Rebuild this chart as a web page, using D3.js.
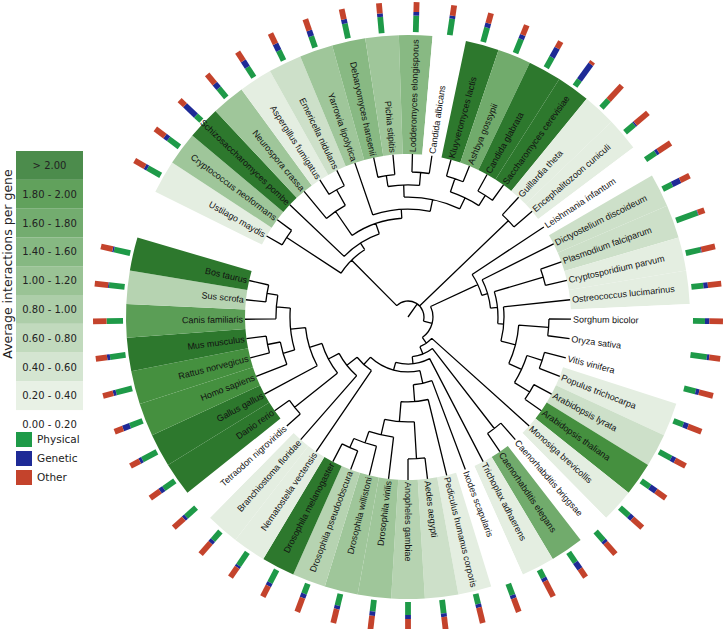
<!DOCTYPE html>
<html><head><meta charset="utf-8">
<script src="https://cdn.jsdelivr.net/npm/d3@7"></script>
<style>body{margin:0;background:#fff}svg{display:block}</style>
</head><body>
<svg id="chart" width="724" height="629"></svg>
<script>
// ---------------- DATA ----------------
const species = ["Ustilago maydis","Cryptococcus neoformans","Schizosaccharomyces pombe","Neurospora crassa","Aspergillus fumigatus","Emericella nidulans","Yarrowia lipolytica","Debaryomyces hansenii","Pichia stipitis","Lodderomyces elongisporus","Candida albicans","Kluyveromyces lactis","Ashbya gossypii","Candida glabrata","Saccharomyces cerevisiae","Guillardia theta","Encephalitozoon cuniculi","Leishmania infantum","Dictyostelium discoideum","Plasmodium falciparum","Cryptosporidium parvum","Ostreococcus lucimarinus","Sorghum bicolor","Oryza sativa","Vitis vinifera","Populus trichocarpa","Arabidopsis lyrata","Arabidopsis thaliana","Monosiga brevicollis","Caenorhabditis briggsae","Caenorhabditis elegans","Trichoplax adhaerens","Ixodes scapularis","Pediculus humanus corporis","Aedes aegypti","Anopheles gambiae","Drosophila virilis","Drosophila willistoni","Drosophila pseudoobscura","Drosophila melanogaster","Nematostella vectensis","Branchiostoma floridae","Tetraodon nigroviridis","Danio rerio","Gallus gallus","Homo sapiens","Rattus norvegicus","Mus musculus","Canis familiaris","Sus scrofa","Bos taurus"];
const avgInteractions = [0.3,0.9,2.4,0.9,0.3,0.5,0.9,1.1,0.9,1.1,0.1,2.3,1.5,2.2,2.8,0.3,0.3,0.1,0.5,0.5,0.3,0.3,0.1,0.1,0.1,0.3,0.5,1.9,0.3,0.1,1.5,0.3,0.1,0.3,0.5,0.7,0.9,0.9,0.7,2.3,0.3,0.3,0.1,2.1,2.1,1.9,1.9,2.2,1.7,0.7,2.1];
const physicalShare = [.50,.45,.25,.40,.40,.37,.40,.50,.54,.55,.55,.50,.50,.40,.25,.35,.40,.40,.35,.75,.50,.40,.40,.55,.40,.35,.45,.35,.40,.40,.40,.30,.40,.35,.45,.43,.38,.40,.35,.48,.52,.38,.45,.45,.55,.45,.55,.52,.55,.52,.55];
const geneticShare  = [.10,.15,.50,.20,.25,.25,.20,.15,.12,.12,.10,.15,.15,.35,.65,.00,.05,.10,.30,.02,.03,.15,.15,.08,.12,.17,.15,.25,.15,.10,.27,.12,.12,.12,.12,.14,.15,.12,.15,.12,.08,.12,.10,.15,.10,.25,.10,.10,.00,.03,.05];
const otherShare    = [.40,.40,.25,.40,.35,.38,.40,.35,.34,.33,.35,.35,.35,.25,.10,.65,.55,.50,.35,.23,.47,.45,.45,.37,.48,.48,.40,.40,.45,.50,.33,.58,.48,.53,.43,.43,.47,.48,.50,.40,.40,.50,.45,.40,.35,.30,.35,.38,.45,.45,.40];

const fungiNewick = "((Ustilago_maydis,Cryptococcus_neoformans):0.399,(Schizosaccharomyces_pombe,((Neurospora_crassa,(Aspergillus_fumigatus,Emericella_nidulans):0.110):0.178,(Yarrowia_lipolytica,(((Debaryomyces_hansenii,Pichia_stipitis):0.067,(Lodderomyces_elongisporus,Candida_albicans):0.080):0.074,((Kluyveromyces_lactis,Ashbya_gossypii):0.086,(Candida_glabrata,Saccharomyces_cerevisiae):0.074):0.074):0.074):0.055):0.067):0.049):0.393";
const guilNewick = "(Guillardia_theta,Encephalitozoon_cuniculi):0.755";
const plantNewick = "(Leishmania_infantum,(Dictyostelium_discoideum,((Plasmodium_falciparum,Cryptosporidium_parvum):0.313,(Ostreococcus_lucimarinus,((Sorghum_bicolor,Oryza_sativa):0.184,((Vitis_vinifera,Populus_trichocarpa):0.098,(Arabidopsis_lyrata,Arabidopsis_thaliana):0.110):0.086):0.092):0.037):0.043):0.037):0.319";
const animalNewick = "(Monosiga_brevicollis,((Caenorhabditis_briggsae,Caenorhabditis_elegans):0.620,(Trichoplax_adhaerens,((Ixodes_scapularis,(Pediculus_humanus_corporis,((Aedes_aegypti,Anopheles_gambiae):0.227,(Drosophila_virilis,(Drosophila_willistoni,(Drosophila_pseudoobscura,Drosophila_melanogaster):0.061):0.074):0.098):0.123):0.104):0.080,(Nematostella_vectensis,(Branchiostoma_floridae,((Tetraodon_nigroviridis,Danio_rerio):0.337,(Gallus_gallus,((Homo_sapiens,(Rattus_norvegicus,Mus_musculus):0.080):0.074,(Canis_familiaris,(Sus_scrofa,Bos_taurus):0.067):0.086):0.092):0.080):0.074):0.080):0.061):0.049):0.043):0.049):0.043";
const treeNewick = "(" + fungiNewick + "," + guilNewick + ",(" + plantNewick + "," + animalNewick + "):0.055):0.098;";

const legendLabels = ["> 2.00","1.80 - 2.00","1.60 - 1.80","1.40 - 1.60","1.00 - 1.20","0.80 - 1.00","0.60 - 0.80","0.40 - 0.60","0.20 - 0.40","0.00 - 0.20"];
const legendValues = [2.1,1.9,1.7,1.5,1.1,0.9,0.7,0.5,0.3,0.1];
const binThresholds = [0.2,0.4,0.6,0.8,1.0,1.3,1.6,1.8,2.0];
const typeLabels = ["Physical","Genetic","Other"];

// ---------------- SETUP ----------------
const svg = d3.select("#chart");
svg.append("rect").attr("width",724).attr("height",629).attr("fill","#fff");
const cx = 408, cy = 317;
const leafR = 163, bandOuter = 282, barInner = 285, barOuter = 315;
const arcSpan = 350, firstLeafAngle = 299.8;
const rad = d => d * Math.PI / 180;

const bandColor = d3.scaleThreshold().domain(binThresholds)
  .range(["#ffffff","#e4eee1","#cde0c9","#b6d3b1","#9fc69a","#88b983","#71ab6c","#5b9e56","#45903f","#2d782d"]);
const typeColor = d3.scaleOrdinal().domain(typeLabels).range(["#1e9a48","#1e2a96","#c4432c"]);

function parseNewick(s){
  let i = 0;
  function node(){
    const n = {};
    if (s[i] === "("){
      i++; n.children = [node()];
      while (s[i] === ","){ i++; n.children.push(node()); }
      i++;
    }
    let name = "";
    while (i < s.length && !",():;".includes(s[i])) name += s[i++];
    n.name = name.replace(/_/g," ").trim();
    if (s[i] === ":"){ i++; let num = ""; while (i < s.length && !",();".includes(s[i])) num += s[i++]; n.length = +num; }
    return n;
  }
  return node();
}

const root = d3.hierarchy(parseNewick(treeNewick));
root.each(n => { n.dist = (n.parent ? n.parent.dist : 0) + (n.data.length || 0); });
d3.cluster().size([arcSpan, 1]).separation(() => 1)(root);
const step = arcSpan / root.leaves().length;
const angleOffset = firstLeafAngle - step / 2;
const rScale = d3.scaleLinear().domain([0, 1]).range([0, leafR]);
root.each(n => { n.ang = n.x + angleOffset; n.r = n.children ? rScale(n.dist) : leafR; });

const leafByName = new Map(root.leaves().map(l => [l.data.name, l]));
const leafData = species.map((name, i) => ({
  name, value: avgInteractions[i],
  shares: [physicalShare[i], geneticShare[i], otherShare[i]],
  ang: leafByName.get(name).ang
}));

const g = svg.append("g").attr("transform", `translate(${cx},${cy})`);

// ---------------- BANDS ----------------
const bandArc = d3.arc().innerRadius(leafR).outerRadius(bandOuter);
g.append("g").selectAll("path").data(leafData).join("path")
  .attr("d", d => bandArc({startAngle: rad(d.ang - step/2), endAngle: rad(d.ang + step/2)}))
  .attr("fill", d => bandColor(d.value));

// ---------------- BARS ----------------
const barScale = d3.scaleLinear().domain([0, 1]).range([barInner, barOuter]);
const barG = g.append("g").selectAll("g").data(leafData).join("g")
  .attr("transform", d => `rotate(${d.ang})`);
barG.each(function(d){
  const tot = d3.sum(d.shares);
  let acc = 0;
  const segs = d.shares.map((v, k) => { const s = {k, a: acc / tot, b: (acc + v) / tot}; acc += v; return s; });
  d3.select(this).selectAll("rect").data(segs.filter(s => s.b > s.a)).join("rect")
    .attr("x", -2.9).attr("width", 5.8)
    .attr("y", s => -barScale(s.b)).attr("height", s => barScale(s.b) - barScale(s.a))
    .attr("fill", s => typeColor(typeLabels[s.k]));
});

// ---------------- TREE ----------------
const pt = (a, r) => [r * Math.sin(rad(a)), -r * Math.cos(rad(a))];
const p = d3.path();
root.each(n => {
  if (n.parent){
    const [x0, y0] = pt(n.ang, n.parent.r), [x1, y1] = pt(n.ang, n.r);
    p.moveTo(x0, y0); p.lineTo(x1, y1);
  } else {
    const [x1, y1] = pt(n.ang, n.r);
    p.moveTo(0, 0); p.lineTo(x1, y1);
  }
  if (n.children){
    const a0 = n.children[0].ang, a1 = n.children[n.children.length - 1].ang;
    const [sx, sy] = pt(a0, n.r);
    p.moveTo(sx, sy);
    p.arc(0, 0, n.r, rad(a0 - 90), rad(a1 - 90), false);
  }
});
g.append("path").attr("d", p.toString()).attr("fill", "none")
  .attr("stroke", "#000").attr("stroke-width", 1.3);

// ---------------- LABELS ----------------
g.append("g").selectAll("text").data(leafData).join("text")
  .attr("transform", d => {
    const a = ((d.ang % 360) + 360) % 360;
    return a < 180 ? `rotate(${d.ang - 90}) translate(${leafR + 2},0)`
                   : `rotate(${d.ang - 90}) translate(${leafR + 2},0) rotate(180)`;
  })
  .attr("text-anchor", d => ((((d.ang % 360) + 360) % 360) < 180 ? "start" : "end"))
  .attr("dy", "0.35em")
  .attr("font-family", "'Liberation Sans', Arial, sans-serif")
  .attr("font-size", 9).attr("fill", "#111")
  .text(d => d.name);

// ---------------- LEGEND ----------------
const lg = svg.append("g");
const ly = d3.scaleBand().domain(legendLabels).range([151, 151 + 28.8 * legendLabels.length]);
lg.selectAll("rect.bin").data(legendLabels).join("rect").attr("class","bin")
  .attr("x", 16).attr("width", 67).attr("y", d => ly(d)).attr("height", ly.bandwidth())
  .attr("fill", (d, i) => bandColor(legendValues[i])).attr("fill-opacity", 0.85);
lg.selectAll("text.bin").data(legendLabels).join("text").attr("class","bin")
  .attr("x", 49.5).attr("y", d => ly(d) + ly.bandwidth() / 2).attr("dy", "0.35em")
  .attr("text-anchor", "middle").attr("font-family", "'DejaVu Sans', sans-serif")
  .attr("font-size", 10).attr("fill", "#222").text(d => d);
lg.append("text").attr("transform", "translate(12,264) rotate(-90)")
  .attr("text-anchor", "middle").attr("font-family", "'DejaVu Sans', sans-serif")
  .attr("font-size", 12.5).attr("fill", "#222").text("Average interactions per gene");

const ty = d3.scalePoint().domain(typeLabels).range([432, 470]);
lg.selectAll("rect.type").data(typeLabels).join("rect").attr("class","type")
  .attr("x", 16).attr("y", d => ty(d)).attr("width", 16).attr("height", 15)
  .attr("fill", d => typeColor(d));
lg.selectAll("text.type").data(typeLabels).join("text").attr("class","type")
  .attr("x", 37).attr("y", d => ty(d) + 7.5).attr("dy", "0.35em")
  .attr("font-family", "'DejaVu Sans', sans-serif").attr("font-size", 10.5)
  .attr("fill", "#222").text(d => d);
</script>
</body></html>
